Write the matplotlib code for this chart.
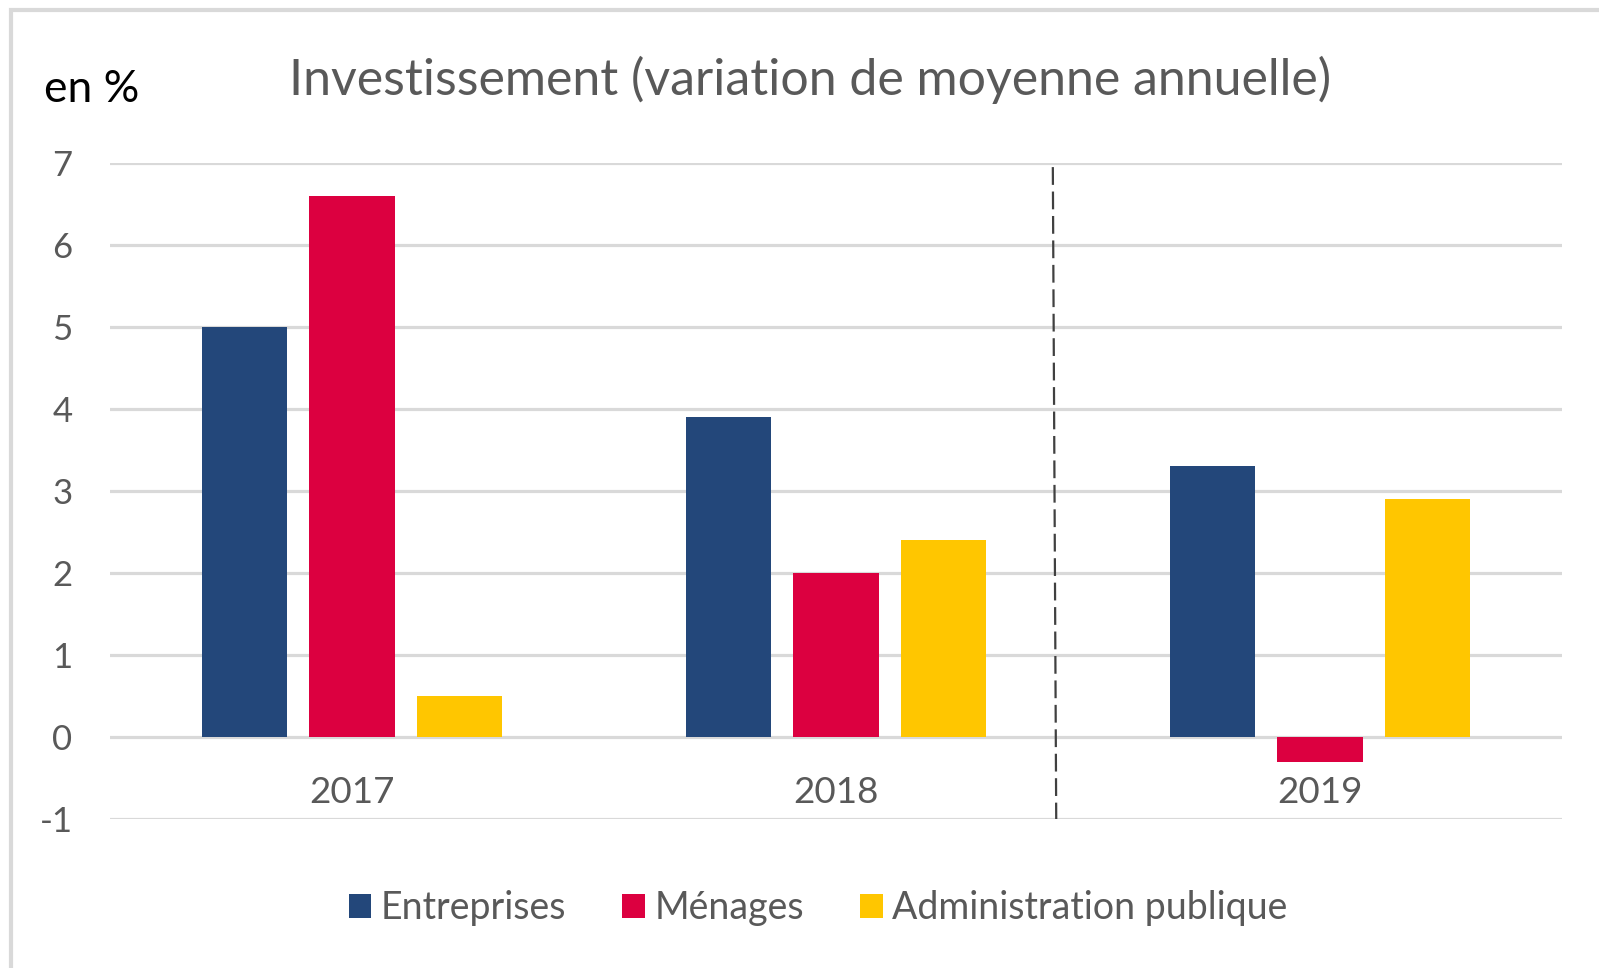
import matplotlib
matplotlib.use("Agg")
import matplotlib.pyplot as plt
from matplotlib.patches import Rectangle, Patch
import numpy as np

plt.rcParams['font.family'] = ['Lato', 'DejaVu Sans']

categories = ["2017", "2018", "2019"]
series_names = ["Entreprises", "Ménages", "Administration publique"]
entreprises = [5.0, 3.9, 3.3]
menages = [6.6, 2.0, -0.3]
administration = [0.5, 2.4, 2.9]
colors = ["#23477A", "#DC0040", "#FFC600"]
yticks = [-1, 0, 1, 2, 3, 4, 5, 6, 7]

W, H = 1599, 968
fig = plt.figure(figsize=(W / 100, H / 100), dpi=100)
ax = fig.add_axes([110 / W, 1 - 819 / H, (1562 - 110) / W, (819 - 163) / H])

x = np.arange(len(categories))
offset = 0.222
width = 0.177
for i, (vals, c) in enumerate(zip([entreprises, menages, administration], colors)):
    ax.bar(x + (i - 1) * offset, vals, width=width, color=c, zorder=3)

ax.set_xlim(-0.5, 2.5)
ax.set_ylim(-1, 7)
ax.set_yticks(yticks)
ax.set_yticklabels([str(t) for t in yticks])
ax.yaxis.grid(True, color="#D9D9D9", linewidth=2.3, zorder=0)
ax.set_axisbelow(True)
for s in ["top", "right", "left"]:
    ax.spines[s].set_visible(False)
ax.spines["bottom"].set_position(("data", 0))
ax.spines["bottom"].set_visible(False)
ax.set_xticks(x)
ax.set_xticklabels(categories)
ax.tick_params(axis="x", length=0, pad=28, labelsize=26.5, labelcolor="#595959")
ax.tick_params(axis="y", length=0, pad=27, labelsize=25, labelcolor="#595959")

# dashed separator
ax.plot([1.448, 1.455], [6.95, -1.0], color="#404040", lw=1.6,
        dashes=(8, 3), zorder=4, clip_on=False)

# titles
fig.text(810 / W, 1 - 80 / H, "Investissement (variation de moyenne annuelle)",
         ha="center", va="center", fontsize=36, color="#595959")
fig.text(44 / W, 1 - 90 / H, "en %", ha="left", va="center", fontsize=32, color="black")

# legend
handles = [Patch(facecolor=c, edgecolor="none") for c in colors]
leg = fig.legend(handles, series_names, loc="center", bbox_to_anchor=(818 / W, 1 - 908 / H),
                 ncol=3, frameon=False, fontsize=27, handlelength=0.6, handleheight=0.6,
                 handletextpad=0.25, columnspacing=1.5, labelcolor="#595959")

# figure border
fig.patches.append(Rectangle((11 / W, -0.1), 1.2, 1 - 10 / H + 0.1, transform=fig.transFigure,
                             fill=False, edgecolor="#D9D9D9", linewidth=3, zorder=0))

fig.savefig("out.png", dpi=100)
